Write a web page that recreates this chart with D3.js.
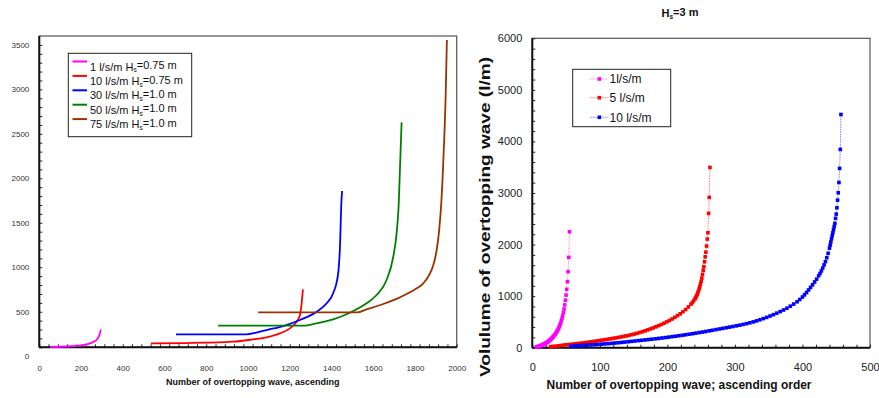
<!DOCTYPE html>
<html><head><meta charset="utf-8">
<script src="https://cdn.jsdelivr.net/npm/d3@7"></script>
<style>body{margin:0;background:#fff} svg{display:block;font-family:Arial,"Liberation Sans",sans-serif}</style>
</head><body><svg id="c" width="879" height="398"></svg>
<script>
// ---------- LEFT CHART DATA ----------
const leftNames = ["1 l/s/m H|s|=0.75 m","10 l/s/m H|s|=0.75 m","30 l/s/m H|s|=1.0 m","50 l/s/m H|s|=1.0 m","75 l/s/m H|s|=1.0 m"];
const leftColors = ["#ff00ff","#ff0000","#0000ff","#008000","#993300"];
const leftMagX = [51,100,150,200,230,259,275,285,291,295];
const leftMagV = [103,106,112,122,135,160,185,220,260,300];
const leftRedX = [535,700,800,929,1025,1089,1153,1201,1233,1249,1257,1263];
const leftRedV = [145,148,152,163,190,212,257,313,388,463,595,752];
const leftBlueX = [655,993,1040,1089,1169,1249,1329,1377,1408,1432,1440,1448,1451];
const leftBlueV = [246,246,266,294,339,407,500,595,707,932,1194,1756,1857];
const leftGreenX = [857,1265,1329,1408,1488,1568,1616,1664,1696,1712,1722,1728,1736];
const leftGreenV = [343,343,370,415,489,595,688,856,1118,1381,1700,2100,2629];
const leftBrownX = [1049,1523,1568,1648,1728,1808,1840,1872,1888,1904,1916,1927,1932,1940,1947,1953];
const leftBrownV = [493,493,527,587,662,763,819,932,1025,1194,1418,1756,1980,2430,2917,3554];
const leftXTicks = [0,200,400,600,800,1000,1200,1400,1600,1800,2000];
const leftYTicks = [0,500,1000,1500,2000,2500,3000,3500];

// ---------- RIGHT CHART DATA ----------
const rightNames = ["1l/s/m","5 l/s/m","10 l/s/m"];
const rightColors = ["#ff00ff","#ff0000","#0000ff"];
const rightLineColors = ["#ff88ff","#ff8080","#8080ff"];
const rMagX = [6,7,8,9,10,11,12,13,14,15,16,17,18,19,20,21,22,23,24,25,26,27,28,29,30,31,32,33,34,35,36,37,38,39,40,41,42,43,44,45,46,47,48,49,50,51,52,53,54,55];
const rMagV = [15,18,21,25,29,33,38,43,48,54,60,67,74,81,89,97,106,115,125,136,147,159,171,184,198,213,229,246,264,284,305,328,353,380,410,443,480,521,567,620,680,750,830,920,1020,1132,1280,1475,1752,2250];
const rRedX = [27,31,35,39,43,47,51,55,59,63,67,71,75,79,83,87,91,95,99,103,107,111,115,119,123,127,131,135,139,143,147,151,155,159,163,167,171,175,179,183,187,191,195,199,203,207,211,215,219,223,227,231,235,
  237,239,241,242,243,244,245,246,247,248,249,250,251,252,253,254,255,256,257,258,259,260,261,262,263];
const rRedV = [20,25,30,36,44,52,57,62,68,74,80,86,93,100,107,114,122,130,138,146,154,162,171,180,189,198,208,218,229,240,252,265,279,294,310,327,345,364,384,405,427,450,474,500,527,557,588,621,657,697,740,790,845,
  877,912,950,975,1000,1030,1062,1098,1140,1185,1235,1290,1350,1420,1500,1570,1667,1762,1853,1971,2107,2229,2605,2915,3496];
const rBlueX = [57,62,67,72,77,82,87,92,97,102,107,112,117,122,127,132,137,142,147,152,157,162,167,172,177,182,187,192,197,202,207,212,217,222,227,232,237,242,247,252,257,262,267,272,277,282,287,292,297,302,307,312,317,322,327,332,337,342,347,352,357,362,367,372,377,382,387,392,
  396,400,403,406,409,412,415,418,421,424,426,428,430,432,434,436,438,440,441,442,443,444,445,446,447,448,449,450,451,452,453,454,455,456,457];
const rBlueV = [30,34,38,42,46,50,54,58,63,68,73,78,84,90,96,102,109,116,123,130,137,144,151,158,165,172,180,188,196,205,214,223,232,241,251,261,271,282,293,304,315,327,339,351,363,375,387,399,411,424,437,451,466,482,500,520,541,564,588,614,641,670,700,731,766,805,846,891,
  935,983,1025,1070,1120,1170,1220,1275,1330,1395,1440,1490,1545,1605,1670,1745,1830,1930,1990,2050,2110,2170,2230,2290,2350,2411,2508,2591,2713,2862,3004,3205,3477,3845,4523];
const rightXTicks = [0,100,200,300,400,500];
const rightYTicks = [0,1000,2000,3000,4000,5000,6000];

const svg = d3.select("#c");
const fmt = d3.format("d");
const leftSeries = [[leftMagX,leftMagV],[leftRedX,leftRedV],[leftBlueX,leftBlueV],[leftGreenX,leftGreenV],[leftBrownX,leftBrownV]]
  .map((s,i)=>({name:leftNames[i],color:leftColors[i],pts:s[0].map((x,j)=>[x,s[1][j]])}));
const rightSeries = [[rMagX,rMagV],[rRedX,rRedV],[rBlueX,rBlueV]]
  .map((s,i)=>({name:rightNames[i],color:rightColors[i],lc:rightLineColors[i],pts:s[0].map((x,j)=>[x,s[1][j]])}));

function subText(sel, label){
  const parts = label.split("|");
  sel.append("tspan").text(parts[0]);
  if(parts.length>1){
    sel.append("tspan").attr("font-size","0.6em").attr("dy","0.3em").text(parts[1]);
    sel.append("tspan").attr("dy","-0.3em").text(parts[2]);
  }
}

// ---------- LEFT ----------
{
  const x = d3.scaleLinear([0,2000],[39.3,456.7]);
  const y = d3.scaleLinear([100,3600],[347.3,36]);
  const g = svg.append("g");
  g.append("rect").attr("x",x(0)).attr("y",y(3600)).attr("width",x(2000)-x(0)).attr("height",y(100)-y(3600))
    .attr("fill","none").attr("stroke","#555").attr("stroke-width",1.2);
  const minorY = d3.range(100,3600,100);
  g.append("g").attr("transform",`translate(${x(0)},0)`).call(d3.axisRight(y).tickValues(minorY).tickSize(3).tickFormat(""))
    .call(a=>a.select(".domain").remove()).selectAll("line").attr("stroke","#222");
  const minorX = d3.range(0,2000.1,2000/45);
  g.append("g").attr("transform",`translate(0,${y(100)})`).call(d3.axisTop(x).tickValues(minorX).tickSize(3).tickFormat(""))
    .call(a=>a.select(".domain").remove()).selectAll("line").attr("stroke","#222");
  g.append("g").attr("transform",`translate(${x(0)},0)`).call(d3.axisLeft(y).tickValues(leftYTicks).tickFormat(fmt).tickSize(0).tickPadding(10))
    .call(a=>a.select(".domain").remove()).selectAll("text").attr("font-size",8).attr("fill","#333").attr("font-family","Arial,Liberation Sans");
  g.append("g").attr("transform",`translate(0,${y(100)})`).call(d3.axisBottom(x).tickValues(leftXTicks).tickFormat(fmt).tickSize(0).tickPadding(18))
    .call(a=>a.select(".domain").remove()).selectAll("text").attr("font-size",8).attr("fill","#333").attr("font-family","Arial,Liberation Sans");
  g.append("line").attr("x1",x(0)).attr("x2",x(0)).attr("y1",y(3600)).attr("y2",y(100)).attr("stroke","#111").attr("stroke-width",2);
  g.append("line").attr("x1",x(0)).attr("x2",x(2000)).attr("y1",y(100)).attr("y2",y(100)).attr("stroke","#111").attr("stroke-width",2);
  const line = d3.line().x(d=>x(d[0])).y(d=>y(d[1])).curve(d3.curveMonotoneX);
  g.selectAll("path.s").data(leftSeries).join("path").attr("class","s").attr("d",d=>line(d.pts))
    .attr("fill","none").attr("stroke",d=>d.color).attr("stroke-width",1.8);
  g.append("text").attr("x",252.7).attr("y",385).attr("text-anchor","middle").attr("font-size",9).attr("font-weight","bold")
    .attr("fill","#111").text("Number of overtopping wave, ascending");
  const lg = g.append("g");
  lg.append("rect").attr("x",68.3).attr("y",53.3).attr("width",123.4).attr("height",83.4).attr("fill","#fff").attr("stroke","#222").attr("stroke-width",1);
  leftSeries.forEach((s,i)=>{
    const ly = 61.5 + i*14.4;
    lg.append("line").attr("x1",72.5).attr("x2",87).attr("y1",ly).attr("y2",ly).attr("stroke",s.color).attr("stroke-width",2);
    const t = lg.append("text").attr("x",90).attr("y",ly+9).attr("font-size",11).attr("fill","#111");
    subText(t, s.name);
  });
}

// ---------- RIGHT ----------
{
  const x = d3.scaleLinear([0,500],[532.3,870]);
  const y = d3.scaleLinear([0,6000],[347.7,38.3]);
  const g = svg.append("g");
  g.append("rect").attr("x",x(0)).attr("y",y(6000)).attr("width",x(500)-x(0)).attr("height",y(0)-y(6000))
    .attr("fill","none").attr("stroke","#555").attr("stroke-width",1.2);
  g.append("g").attr("transform",`translate(${x(0)},0)`).call(d3.axisRight(y).tickValues(d3.range(0,6001,200)).tickSize(3).tickFormat(""))
    .call(a=>a.select(".domain").remove()).selectAll("line").attr("stroke","#222");
  g.append("g").attr("transform",`translate(0,${y(0)})`).call(d3.axisTop(x).tickValues(d3.range(0,501,20)).tickSize(3).tickFormat(""))
    .call(a=>a.select(".domain").remove()).selectAll("line").attr("stroke","#222");
  g.append("g").attr("transform",`translate(${x(0)},0)`).call(d3.axisLeft(y).tickValues(rightYTicks).tickFormat(fmt).tickSize(0).tickPadding(10))
    .call(a=>a.select(".domain").remove()).selectAll("text").attr("font-size",11).attr("fill","#222").attr("font-family","Arial,Liberation Sans");
  g.append("g").attr("transform",`translate(0,${y(0)})`).call(d3.axisBottom(x).tickValues(rightXTicks).tickFormat(fmt).tickSize(0).tickPadding(16))
    .call(a=>a.select(".domain").remove()).selectAll("text").attr("font-size",11).attr("fill","#222").attr("font-family","Arial,Liberation Sans");
  g.append("line").attr("x1",x(0)).attr("x2",x(0)).attr("y1",y(6000)).attr("y2",y(0)).attr("stroke","#111").attr("stroke-width",2);
  g.append("line").attr("x1",x(0)).attr("x2",x(500)).attr("y1",y(0)).attr("y2",y(0)).attr("stroke","#111").attr("stroke-width",2);
  const line = d3.line().x(d=>x(d[0])).y(d=>y(d[1]));
  rightSeries.forEach(s=>{
    g.append("path").attr("d",line(s.pts)).attr("fill","none").attr("stroke",s.lc).attr("stroke-width",1).attr("stroke-dasharray","1.5,1");
    g.append("g").selectAll("rect").data(s.pts).join("rect")
      .attr("x",d=>x(d[0])-1.8).attr("y",d=>y(d[1])-1.8).attr("width",3.6).attr("height",3.6).attr("fill",s.color);
  });
  const tt = g.append("text").attr("x",680).attr("y",17).attr("text-anchor","middle").attr("font-size",11).attr("font-weight","bold").attr("fill","#111");
  subText(tt,"H|s|=3 m");
  g.append("text").attr("x",679).attr("y",389).attr("text-anchor","middle").attr("font-size",13).attr("font-weight","bold")
    .attr("fill","#111").attr("textLength",265).attr("lengthAdjust","spacingAndGlyphs").text("Number of overtopping wave; ascending order");
  g.append("text").attr("transform","translate(490,217) rotate(-90)").attr("text-anchor","middle").attr("font-size",14).attr("font-weight","bold")
    .attr("fill","#111").attr("textLength",320).attr("lengthAdjust","spacingAndGlyphs").text("Volulume of overtopping wave (l/m)");
  const lg = g.append("g");
  lg.append("rect").attr("x",572.7).attr("y",69.3).attr("width",98).attr("height",57.4).attr("fill","#fff").attr("stroke","#222").attr("stroke-width",1);
  rightSeries.forEach((s,i)=>{
    const ly = [79,97.7,117.3][i];
    lg.append("line").attr("x1",590).attr("x2",608.3).attr("y1",ly).attr("y2",ly).attr("stroke",s.lc).attr("stroke-width",1).attr("stroke-dasharray","1.5,1");
    lg.append("rect").attr("x",599.3-1.8).attr("y",ly-1.8).attr("width",3.6).attr("height",3.6).attr("fill",s.color);
    lg.append("text").attr("x",609.5).attr("y",ly+4.3).attr("font-size",12).attr("fill","#111").text(s.name);
  });
}
</script></body></html>
